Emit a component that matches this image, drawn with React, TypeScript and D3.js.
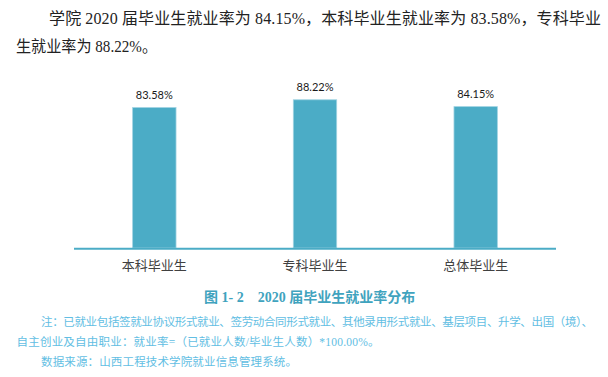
import React from "react";
import * as d3 from "d3";

const categories = ["本科毕业生", "专科毕业生", "总体毕业生"];
const rates = [83.58, 88.22, 84.15];
const rateLabels = ["83.58%", "88.22%", "84.15%"];
const introLines = [
  "学院 2020 届毕业生就业率为 84.15%，本科毕业生就业率为 83.58%，专科毕业",
  "生就业率为 88.22%。",
];
const captionText = "图 1- 2    2020 届毕业生就业率分布";
const noteLines = [
  "注：已就业包括签就业协议形式就业、签劳动合同形式就业、其他录用形式就业、基层项目、升学、出国（境）、",
  "自主创业及自由职业：就业率=（已就业人数/毕业生人数）*100.00%。",
  "数据来源：山西工程技术学院就业信息管理系统。",
];

const W = 608;
const H = 377;
const BAR = "#4BACC6";

export default function App() {
  const x = d3
    .scaleBand<string>()
    .domain(categories)
    .range([74, 556])
    .paddingInner(0.73)
    .paddingOuter(0.365);
  const y = d3.scaleLinear().domain([0, 100]).range([248, 80]);
  const serif = "'Liberation Serif', 'Times New Roman', 'Noto Sans CJK SC', serif";
  const cjk = "'Noto Sans CJK SC', sans-serif";

  return (
    <svg
      width={W}
      height={H}
      viewBox={`0 0 ${W} ${H}`}
      style={{ position: "absolute", left: 0, top: 0, background: "#fff" }}
    >
      {/* intro paragraph */}
      <text
        x={49}
        y={24}
        fontFamily={serif}
        fontSize={16}
        fill="#222"
        textLength={552}
        lengthAdjust="spacing"
      >
        {introLines[0]}
      </text>
      <text x={16} y={52} fontFamily={serif} fontSize={16} fill="#222" textLength={141} lengthAdjust="spacingAndGlyphs">
        {introLines[1]}
      </text>

      {/* bars */}
      {categories.map((c, i) => (
        <g key={c}>
          <rect
            x={x(c)!}
            y={y(rates[i])}
            width={x.bandwidth()}
            height={y(0) - y(rates[i])}
            fill={BAR}
            stroke="#9fd3e2"
            strokeWidth={0.8}
          />
          <text
            x={x(c)! + x.bandwidth() / 2}
            y={y(rates[i]) - 9}
            textAnchor="middle"
            fontFamily="Lato, 'Liberation Sans', sans-serif"
            fontSize={11}
            fill="#1a1a1a"
          >
            {rateLabels[i]}
          </text>
          <text
            x={x(c)! + x.bandwidth() / 2}
            y={270}
            textAnchor="middle"
            fontFamily={cjk}
            fontSize={13}
            fill="#404040"
          >
            {c}
          </text>
        </g>
      ))}
      <line x1={74} x2={556} y1={y(0) + 0.7} y2={y(0) + 0.7} stroke={BAR} strokeWidth={2} />

      {/* caption */}
      <text
        x={204}
        y={302}
        fontFamily={serif}
        fontSize={14}
        fontWeight="bold"
        fill="#3FA3BE"
        style={{ whiteSpace: "pre" }}
        xmlSpace="preserve"
      >
        {captionText}
      </text>

      {/* notes */}
      <text
        x={41}
        y={326}
        fontFamily={serif}
        fontSize={11.5}
        fill="#62BEE3"
        textLength={552}
        lengthAdjust="spacing"
      >
        {noteLines[0]}
      </text>
      <text
        x={16.5}
        y={346}
        fontFamily={serif}
        fontSize={11.5}
        fill="#62BEE3"
        textLength={363}
        lengthAdjust="spacing"
      >
        {noteLines[1]}
      </text>
      <text
        x={41}
        y={365.5}
        fontFamily={serif}
        fontSize={11.5}
        fill="#62BEE3"
        textLength={256}
        lengthAdjust="spacing"
      >
        {noteLines[2]}
      </text>
    </svg>
  );
}
